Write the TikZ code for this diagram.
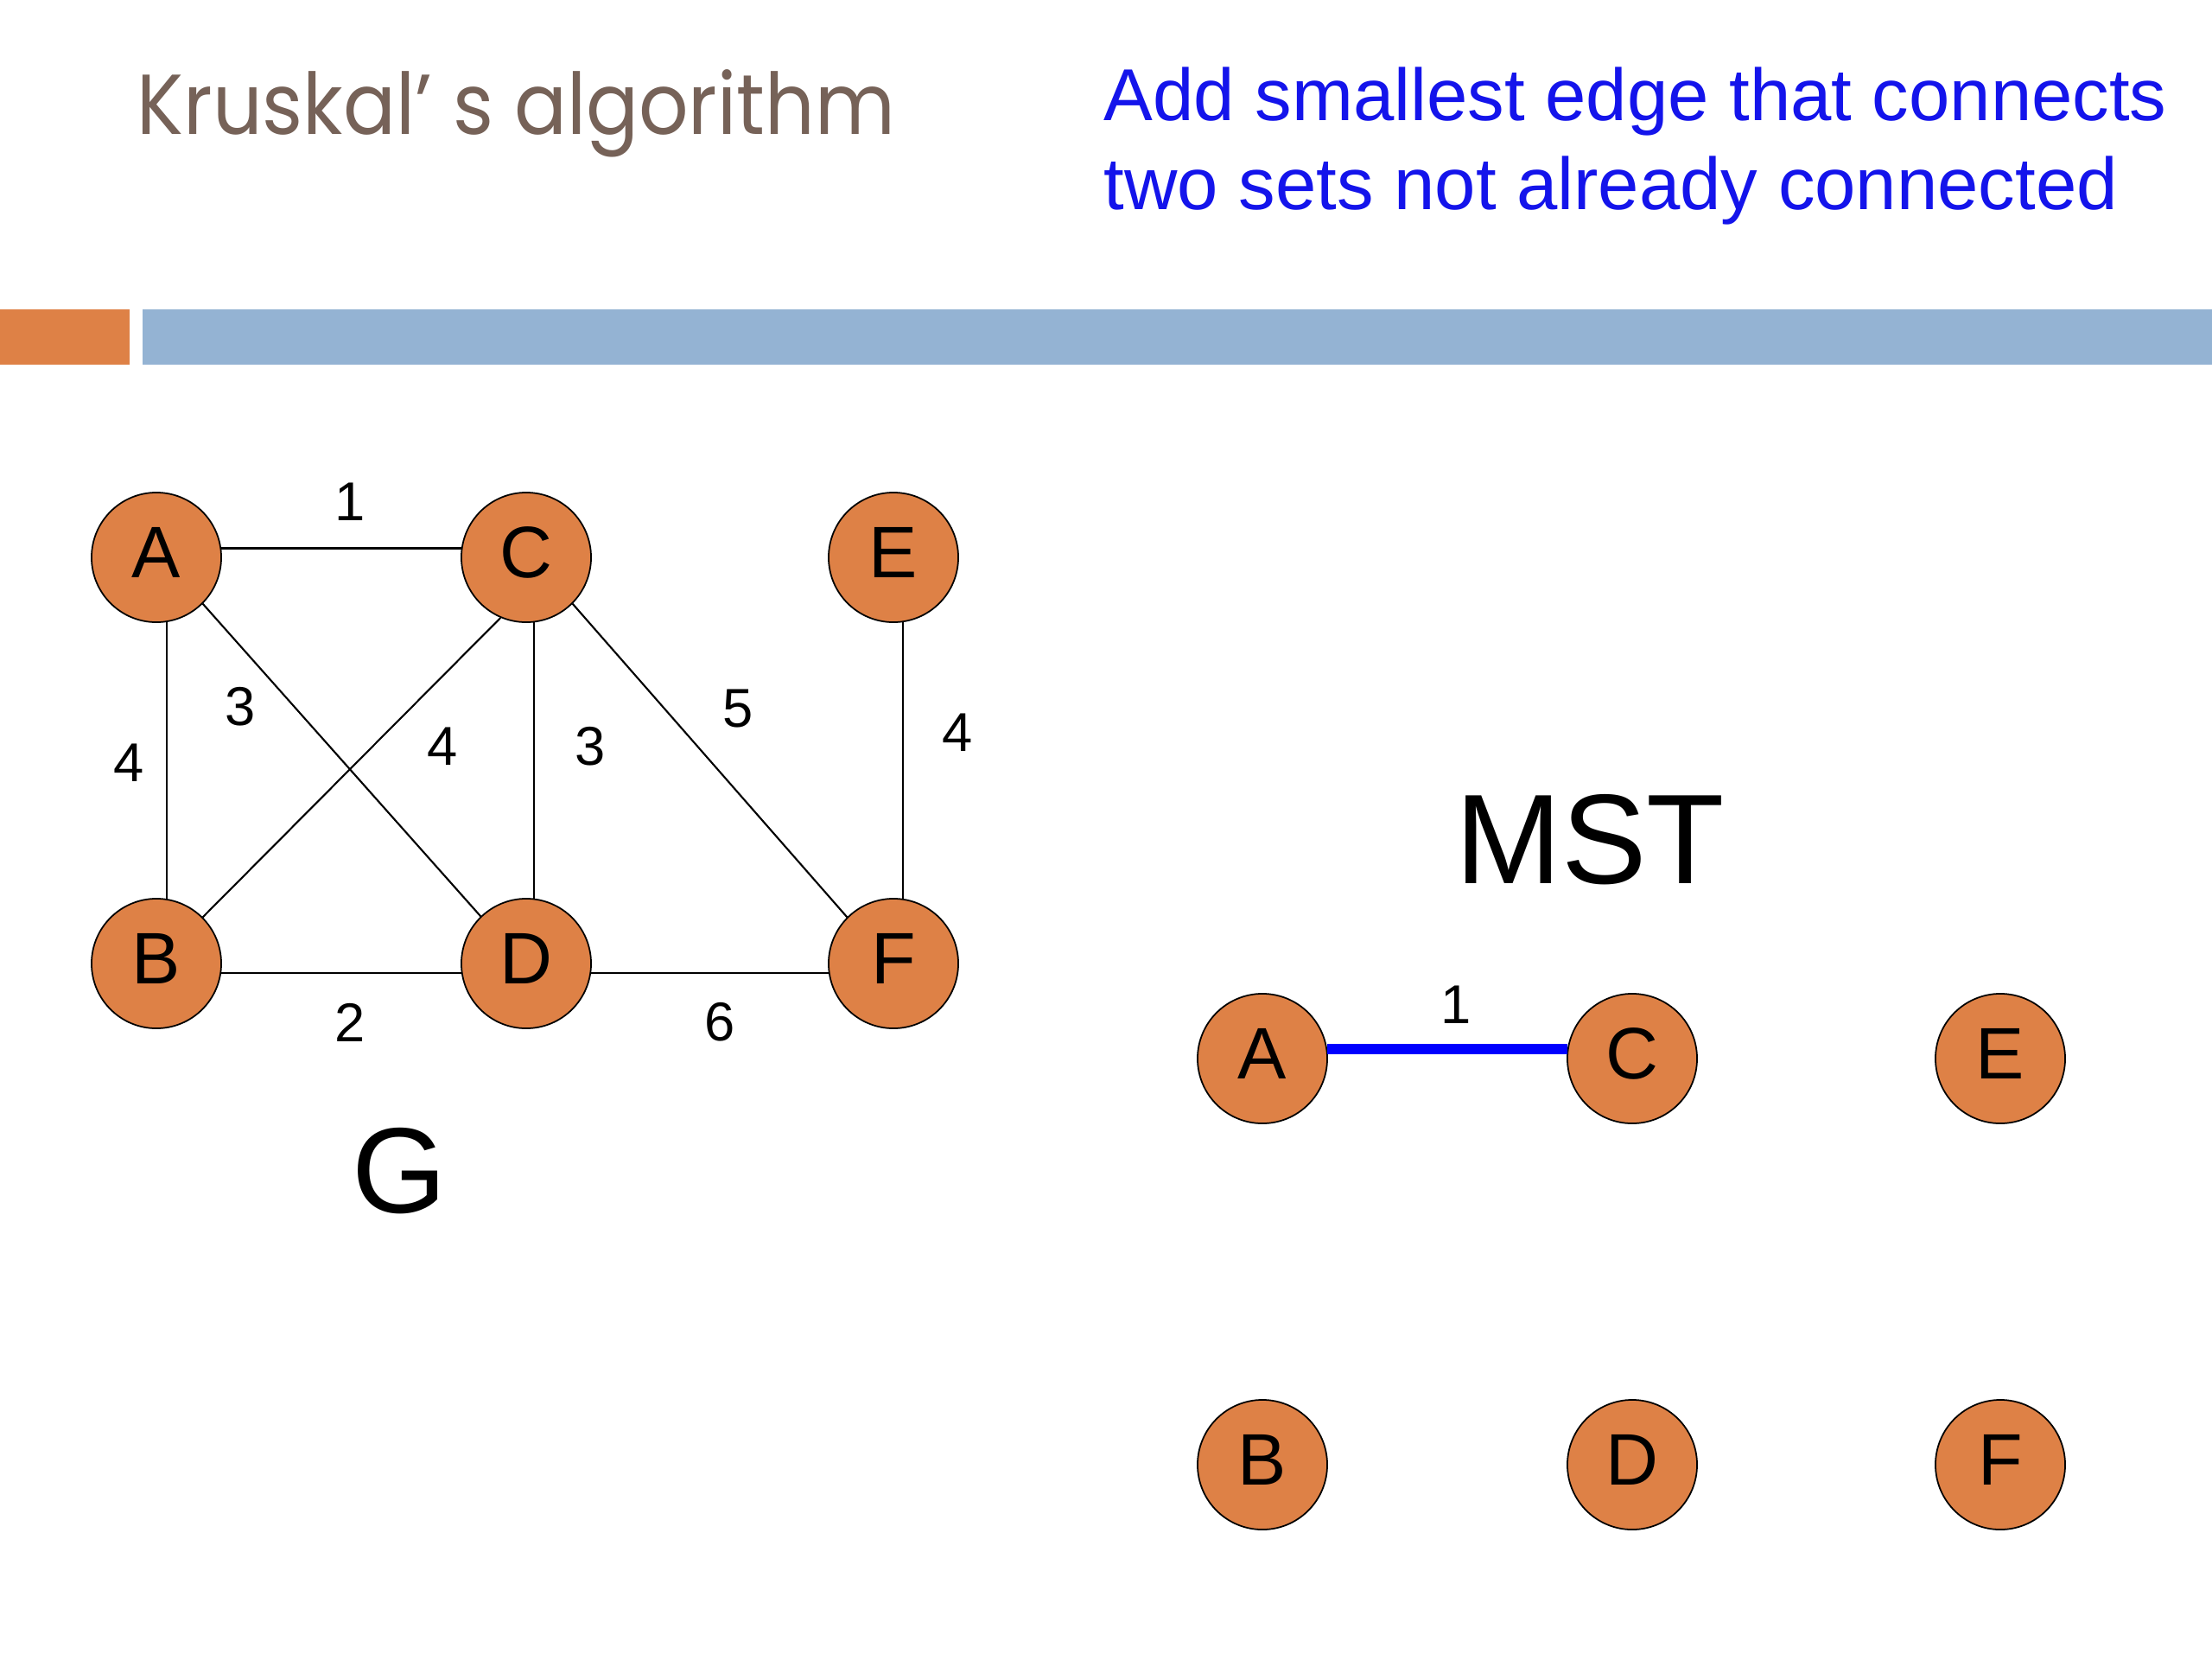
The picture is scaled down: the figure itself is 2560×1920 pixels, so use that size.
\documentclass[tikz,border=0pt]{standalone}
\usepackage{graphicx}
\usepackage{fontspec}
\setmainfont{Liberation Sans}
\newfontfamily\titlefont{Poppins}
\definecolor{nodeorange}{RGB}{222,129,70}
\definecolor{barblue}{RGB}{148,179,211}
\definecolor{titlebrown}{RGB}{118,98,88}
\definecolor{textblue}{RGB}{20,20,235}
\begin{document}
\begin{tikzpicture}[x=0.01cm,y=-0.01cm,
  vertex/.style={circle,draw=black,line width=0.5pt,fill=nodeorange,minimum size=1.5cm,inner sep=0pt,text height=0.61cm,text depth=0.14cm,font=\fontsize{24}{28}\selectfont},
  edge/.style={line width=0.6pt,black},
  mstedge/.style={line width=3.4pt,blue},
  wlabel/.style={inner sep=0pt,font=\fontsize{18}{22}\selectfont},
  notetext/.style={anchor=base west,inner sep=0pt,text=textblue,font=\fontsize{24.2}{28}\selectfont}]
\useasboundingbox (0,0) rectangle (2560,1920);
\fill[white] (0,0) rectangle (2560,1920);
% header bars
\fill[nodeorange] (0,358) rectangle (150,422);
\fill[barblue] (165,358) rectangle (2560,422);
% title
\node[anchor=base west,inner sep=0pt,text=titlebrown,font=\titlefont\fontsize{28}{34}\selectfont] (title) at (158,155) {\scalebox{0.915}[1]{Kruskal’ s algorithm}};
\node[notetext] (note1) at (1277,139) {Add smallest edge that connects};
\node[notetext] (note2) at (1277,242) {two sets not already connected};
% graph G
\node[vertex] (A) at (181,645) {A};
\node[vertex] (C) at (609,645) {C};
\node[vertex] (E) at (1034,645) {E};
\node[vertex] (B) at (181,1115) {B};
\node[vertex] (D) at (609,1115) {D};
\node[vertex] (F) at (1034,1115) {F};
\draw[edge] (A.8) -- (C.172);
\draw[edge] (A.-81.6) -- (B.81.6);
\draw[edge] (C.-83) -- (D.83);
\draw[edge] (E.-82.3) -- (F.82.3);
\draw[edge] (B.-8.4) -- (D.188.4);
\draw[edge] (D.-8.4) -- (F.188.4);
\draw[edge] (A.-45) -- (D.134);
\draw[edge] (C.-113) -- (B.45);
\draw[edge] (C.-45) -- (F.135);
\node[wlabel] (wAC) at (405,581) {1};
\node[wlabel] (wAD) at (278,818) {3};
\node[wlabel] (wAB) at (149,883) {4};
\node[wlabel] (wBC) at (512,864) {4};
\node[wlabel] (wCD) at (683,864) {3};
\node[wlabel] (wCF) at (854,820) {5};
\node[wlabel] (wEF) at (1108,848) {4};
\node[wlabel] (wBD) at (405,1183) {2};
\node[wlabel] (wDF) at (833,1183) {6};
\node[inner sep=0pt,font=\fontsize{40}{46}\selectfont] (G) at (462,1355) {G};
% MST
\node[inner sep=0pt,font=\fontsize{42}{48}\selectfont] (MST) at (1840,972) {MST};
\node[vertex] (mA) at (1461,1225) {A};
\node[vertex] (mC) at (1889,1225) {C};
\node[vertex] (mE) at (2315,1225) {E};
\node[vertex] (mB) at (1461,1695) {B};
\node[vertex] (mD) at (1889,1695) {D};
\node[vertex] (mF) at (2315,1695) {F};
\draw[mstedge] (mA.8) -- (mC.172);
\node[wlabel] (wmAC) at (1685,1163) {1};
\end{tikzpicture}
\end{document}
